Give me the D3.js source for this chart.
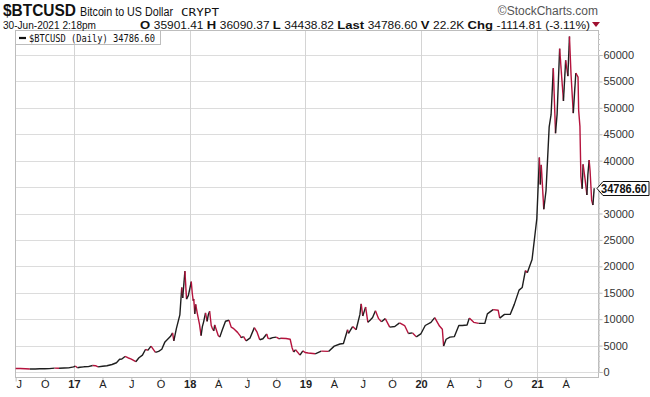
<!DOCTYPE html>
<html><head><meta charset="utf-8">
<script src="https://cdn.jsdelivr.net/npm/d3@7"></script>
<style>
html,body{margin:0;padding:0;background:#fff;}
svg{display:block;}
</style></head>
<body><svg id="c" width="650" height="397"></svg>
<script>
const dates = [
"2016-07-01","2016-07-15","2016-08-01","2016-08-15","2016-09-01","2016-09-15","2016-10-01","2016-10-15","2016-11-01","2016-11-15","2016-12-01","2016-12-15","2016-12-31",
"2017-01-05","2017-01-12","2017-01-20","2017-02-01","2017-02-15","2017-03-01","2017-03-10","2017-03-18","2017-04-01","2017-04-15","2017-05-01","2017-05-15","2017-05-25","2017-06-01","2017-06-11","2017-06-20","2017-07-01","2017-07-15","2017-07-25","2017-08-05","2017-08-15","2017-08-22","2017-09-01","2017-09-15","2017-09-25","2017-10-05","2017-10-15","2017-11-01","2017-11-08","2017-11-12","2017-11-20","2017-12-01","2017-12-07","2017-12-10","2017-12-17","2017-12-22","2017-12-28",
"2018-01-06","2018-01-09","2018-01-12","2018-01-14","2018-01-17","2018-01-20","2018-01-25","2018-02-01","2018-02-06","2018-02-10","2018-02-14","2018-02-20","2018-02-25","2018-03-01","2018-03-05","2018-03-10","2018-03-14","2018-03-18","2018-03-21","2018-04-01","2018-04-06","2018-04-14","2018-04-24","2018-05-05","2018-05-12","2018-05-20","2018-06-01","2018-06-10","2018-06-12","2018-06-20","2018-06-28","2018-07-10","2018-07-24","2018-08-01","2018-08-10","2018-08-20","2018-09-01","2018-09-05","2018-09-10","2018-09-20","2018-10-01","2018-10-11","2018-10-15","2018-11-01","2018-11-14","2018-11-20","2018-11-25","2018-12-01","2018-12-15","2018-12-24","2018-12-31",
"2019-01-10","2019-02-01","2019-02-20","2019-03-15","2019-04-02","2019-04-20","2019-05-01","2019-05-14","2019-05-17","2019-05-30","2019-06-10","2019-06-22","2019-06-26","2019-07-01","2019-07-10","2019-07-17","2019-07-24","2019-08-01","2019-08-10","2019-08-20","2019-08-29","2019-09-10","2019-09-24","2019-10-10","2019-10-25","2019-11-10","2019-11-22","2019-12-05","2019-12-17","2019-12-31",
"2020-01-14","2020-02-01","2020-02-13","2020-02-28","2020-03-08","2020-03-12","2020-03-20","2020-04-01","2020-04-15","2020-04-29","2020-05-10","2020-05-25","2020-06-01","2020-06-15","2020-07-01","2020-07-20","2020-07-28","2020-08-15","2020-08-31","2020-09-05","2020-09-20","2020-10-08","2020-10-21","2020-11-05","2020-11-15","2020-11-25","2020-12-01","2020-12-16","2020-12-31",
"2021-01-08","2021-01-11","2021-01-14","2021-01-22","2021-01-29","2021-02-08","2021-02-14","2021-02-21","2021-02-28","2021-03-05","2021-03-13","2021-03-25","2021-04-01","2021-04-08","2021-04-13","2021-04-18","2021-04-25","2021-05-03","2021-05-10","2021-05-12","2021-05-16","2021-05-19","2021-05-23","2021-05-26","2021-06-01","2021-06-07","2021-06-10","2021-06-14","2021-06-17","2021-06-22","2021-06-26","2021-06-30"
];
const closes = [
670,665,610,570,575,608,615,640,730,710,750,780,960,
1130,800,900,980,1010,1220,1190,970,1080,1180,1420,1750,2400,2450,2950,2700,2450,1950,2700,3200,4300,4100,4900,3700,3900,4300,5700,6700,7400,5900,8200,10800,16000,14000,19100,13800,14500,
17100,15000,13500,13800,11000,12800,11100,9000,6900,8600,9500,11200,9600,10900,11500,8800,8200,7800,8900,6900,6600,8000,9600,9800,8500,8200,7500,6800,6500,6700,5900,6400,8400,7600,6100,6300,7200,6400,6300,6500,6600,6250,6400,6350,6200,4600,3800,4200,3200,4000,3700,
3600,3450,3950,3900,4900,5300,5400,8000,7300,8600,8000,10900,12900,10600,12300,9400,9800,10300,11600,10100,9500,10100,8500,8600,9300,8800,7300,7400,6650,7200,
8800,9400,10300,8700,8100,4900,6200,6600,6700,8800,8800,8900,10200,9400,9200,9200,11000,11800,11700,10200,10900,10900,12800,15500,16000,19200,18800,21300,29000,
40600,35500,39200,30800,34300,46400,48700,57500,45200,48800,61200,51300,59000,56000,63500,56200,49000,56600,55800,49500,46500,37000,34700,39300,36600,33500,37300,40100,38100,32500,31600,34786.6
];
const yTicks = [0,5000,10000,15000,20000,25000,30000,35000,40000,45000,50000,55000,60000];
const monthLabels = ["J","O","17","A","J","O","18","A","J","O","19","A","J","O","20","A","J","O","21","A"];
const monthDates = ["2016-07-01","2016-10-01","2017-01-01","2017-04-01","2017-07-01","2017-10-01","2018-01-01","2018-04-01","2018-07-01","2018-10-01","2019-01-01","2019-04-01","2019-07-01","2019-10-01","2020-01-01","2020-04-01","2020-07-01","2020-10-01","2021-01-01","2021-04-01"];
const yearLines = ["2017-01-01","2018-01-01","2019-01-01","2020-01-01","2021-01-01"];

const parse = d3.utcParse("%Y-%m-%d");
const data = dates.map((d,i)=>({date:parse(d), v:closes[i]}));
const last = data[data.length-1];

const svg = d3.select("#c");
const L=15, R=598, T=30, B=377;
const x = d3.scaleUtc().domain([parse("2016-06-29"), parse("2021-07-12")]).range([L,R]);
const y = d3.scaleLinear().domain([0,60000]).range([372,55]);

// grid
const g = svg.append("g");
g.selectAll("line.h").data(yTicks).join("line")
  .attr("x1",L).attr("x2",R).attr("y1",d=>Math.round(y(d))+0.5).attr("y2",d=>Math.round(y(d))+0.5)
  .attr("stroke","#dcdcdc").attr("stroke-width",1);
g.selectAll("line.v").data(yearLines).join("line")
  .attr("x1",d=>Math.round(x(parse(d)))+0.5).attr("x2",d=>Math.round(x(parse(d)))+0.5)
  .attr("y1",T).attr("y2",B).attr("stroke","#d4d4d4").attr("stroke-width",1);

// frame
svg.append("rect").attr("x",L+0.5).attr("y",T+0.5).attr("width",R-L).attr("height",B-T)
  .attr("fill","none").attr("stroke","#bdbdbd").attr("stroke-width",1);

// right axis (label hidden where the price tag covers it)
const ya = d3.axisRight(y).tickValues(yTicks).tickSize(4)
  .tickFormat(d=>Math.abs(y(d)-y(last.v))<10 ? "" : d3.format("d")(d));
const yAxisG = svg.append("g").attr("transform",`translate(${R+0.5},0)`).call(ya);
yAxisG.select(".domain").attr("stroke","#bdbdbd");
yAxisG.selectAll(".tick line").attr("stroke","#bdbdbd");
yAxisG.selectAll(".tick text").attr("x",5).attr("font-family","Liberation Sans, Arial, sans-serif").attr("font-size",11).attr("fill","#333");
const minor = d3.range(0,65000,1000);
svg.append("g").selectAll("line").data(minor).join("line")
  .attr("x1",R).attr("x2",R+2).attr("y1",d=>Math.round(y(d))+0.5).attr("y2",d=>Math.round(y(d))+0.5)
  .attr("stroke","#c8c8c8");

// bottom axis
const xa = d3.axisBottom(x).tickValues(monthDates.map(parse)).tickSize(4)
  .tickFormat((d,i)=>monthLabels[i]);
const xAxisG = svg.append("g").attr("transform",`translate(0,${B+0.5})`).call(xa);
xAxisG.select(".domain").remove();
xAxisG.selectAll(".tick line").attr("stroke","#bdbdbd");
xAxisG.selectAll(".tick text").attr("y",3).attr("font-family","Liberation Sans Narrow, Liberation Sans, Arial, sans-serif")
  .attr("font-size",11).attr("fill","#222")
  .attr("font-weight",(d,i)=>/\d/.test(monthLabels[i])?"bold":"normal")
  .attr("dx",(d,i)=>i===0?3:0);

// price line colored by direction
const line = d3.line().x(d=>x(d.date)).y(d=>y(d.v));
const segs = [];
for(let i=1;i<data.length;i++){
  const up = data[i].v >= data[i-1].v;
  if(segs.length && segs[segs.length-1].up===up) segs[segs.length-1].pts.push(data[i]);
  else segs.push({up, pts:[data[i-1],data[i]]});
}
svg.append("g").selectAll("path").data(segs).join("path")
  .attr("d",s=>line(s.pts)).attr("fill","none")
  .attr("stroke",s=>s.up?"#1e1e1e":"#b5133d").attr("stroke-width",1.4)
  .attr("stroke-linejoin","round");

// legend
const lg = svg.append("g");
lg.append("rect").attr("x",L+0.5).attr("y",T+0.5).attr("width",145).attr("height",14)
  .attr("fill","#fff").attr("stroke","#bdbdbd");
lg.append("line").attr("x1",19).attr("x2",26).attr("y1",38).attr("y2",38).attr("stroke","#111").attr("stroke-width",2.2);
lg.append("text").attr("x",29).attr("y",41.5).attr("font-family","DejaVu Sans Mono, monospace")
  .attr("font-size",10).attr("fill","#111").attr("textLength",126).attr("lengthAdjust","spacingAndGlyphs")
  .text("$BTCUSD (Daily) 34786.60");

// price tag
const py = Math.round(y(last.v))+0.5;
svg.append("path").attr("d",`M${R-1},${py} L${R+5},${py-7} L649,${py-7} L649,${py+7} L${R+5},${py+7} Z`)
  .attr("fill","#fff").attr("stroke","#111").attr("stroke-width",1);
svg.append("text").attr("x",624).attr("y",py+4.5).attr("text-anchor","middle")
  .attr("font-family","Liberation Sans Narrow, Liberation Sans, Arial, sans-serif").attr("font-weight","bold")
  .attr("font-size",12).attr("fill","#111").attr("textLength",46).attr("lengthAdjust","spacingAndGlyphs")
  .text(d3.format(".2f")(last.v));

// header
const hf = "Liberation Sans Narrow, Liberation Sans, Arial, sans-serif";
svg.append("text").attr("x",3).attr("y",16).attr("font-family",hf).attr("font-weight","bold")
  .attr("font-size",16).attr("fill","#111").attr("textLength",73).attr("lengthAdjust","spacingAndGlyphs").text("$BTCUSD");
svg.append("text").attr("x",80).attr("y",16).attr("font-family",hf)
  .attr("font-size",12).attr("fill","#111").attr("textLength",93).attr("lengthAdjust","spacingAndGlyphs").text("Bitcoin to US Dollar");
svg.append("text").attr("x",181).attr("y",16).attr("font-family","DejaVu Sans Mono, monospace")
  .attr("font-size",10).attr("fill","#111").attr("textLength",38).attr("lengthAdjust","spacingAndGlyphs").text("CRYPT");
svg.append("text").attr("x",598).attr("y",15).attr("text-anchor","end").attr("font-family","Liberation Sans, Arial, sans-serif")
  .attr("font-size",12).attr("fill","#555").text("\u00A9StockCharts.com");
svg.append("text").attr("x",3).attr("y",28.5).attr("font-family",hf)
  .attr("font-size",10).attr("fill","#111").attr("textLength",93).attr("lengthAdjust","spacingAndGlyphs").text("30-Jun-2021 2:18pm");
const parts = [["O ",true],["35901.41 ",false],["H ",true],["36090.37 ",false],["L ",true],["34438.82 ",false],["Last ",true],["34786.60 ",false],["V ",true],["22.2K ",false],["Chg ",true],["-1114.81 (-3.11%)",false]];
const t2 = svg.append("text").attr("x",140).attr("y",28.5).attr("font-family",hf).attr("font-size",10.5).attr("fill","#111")
  .attr("textLength",450).attr("lengthAdjust","spacingAndGlyphs").attr("xml:space","preserve");
parts.forEach(p=>t2.append("tspan").attr("font-weight",p[1]?"bold":"normal").attr("font-size",p[1]?11.5:10.5).text(p[0]));
svg.append("path").attr("d","M592,22 L600,22 L596,27 Z").attr("fill","#a01030");
</script>
</body></html>
